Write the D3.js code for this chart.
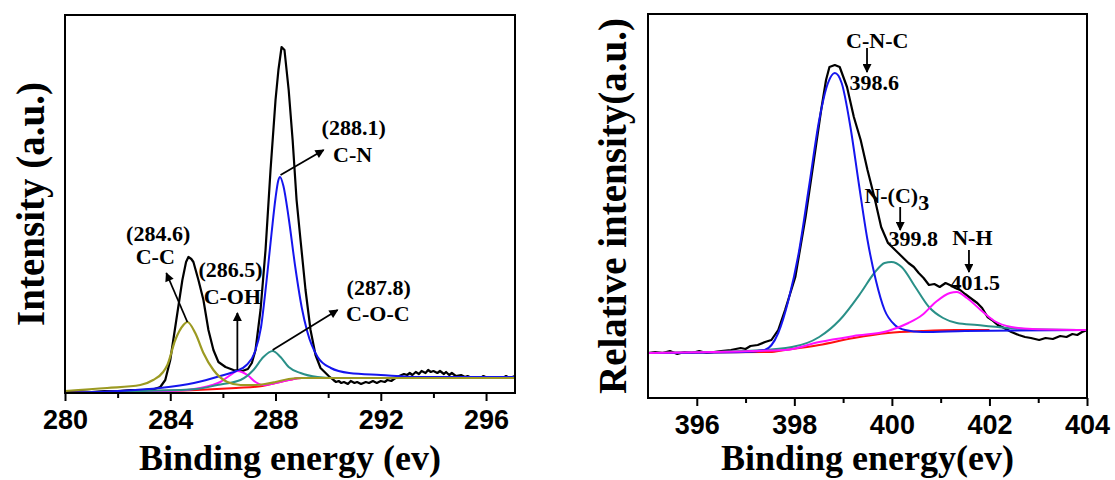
<!DOCTYPE html>
<html><head><meta charset="utf-8">
<script src="https://cdn.jsdelivr.net/npm/d3@7"></script>
<style>
html,body{margin:0;padding:0;background:#fff;}
svg{display:block;}
</style></head>
<body>
<svg id="chart" width="1115" height="480"></svg>
<script>
// ---------- DATA ----------
// C 1s panel (binding energy eV, intensity a.u.)
const c1sEnvelope = [[280.0,2],[280.5,2],[281.0,1],[281.5,2],[282.0,2],[282.5,3],[283.0,3],[283.4,4],[283.62,6],[283.81,13],[284.0,33],[284.23,73],[284.46,113],[284.6,131],[284.69,136],[284.8,134],[284.88,131],[285.07,113],[285.26,93],[285.45,63],[285.64,43],[285.83,31],[286.1,26],[286.4,23],[286.74,22],[286.95,24],[287.1,30],[287.24,43],[287.43,83],[287.62,143],[287.81,223],[288.0,293],[288.11,323],[288.23,346],[288.34,343],[288.5,303],[288.65,253],[288.8,193],[288.95,153],[289.14,103],[289.33,63],[289.52,38],[289.71,25],[290.02,17],[290.2,13],[290.3,11],[290.4,12],[290.5,10],[290.6,11],[290.75,9],[290.86,12],[291.0,10],[291.1,11],[291.25,9],[291.43,11],[291.55,10],[291.7,12],[291.85,10],[292.0,12],[292.15,11],[292.25,13],[292.4,12],[292.5,14],[292.7,17],[292.88,19],[293.0,18],[293.1,20],[293.2,18],[293.33,21],[293.45,19],[293.55,22],[293.7,20],[293.8,23],[293.9,21],[294.0,22],[294.15,20],[294.25,22],[294.4,19],[294.48,21],[294.6,18],[294.7,20],[294.85,17],[295.05,18],[295.2,16],[295.3,17],[295.45,15],[295.62,16],[295.8,15],[295.9,17],[296.05,15],[296.19,16],[296.35,15],[296.5,16],[296.65,15],[296.76,17],[296.9,15],[297.1,17]];
const c1sCC = [[280.0,2],[281.6,5],[282.86,8],[283.35,13],[283.73,21],[283.89,28],[284.19,53],[284.5,68],[284.65,71],[284.95,60],[285.26,40],[285.64,23],[286.17,11],[286.67,8],[287.2,8],[287.6,9],[288.0,11],[288.5,14],[289.0,15],[290.0,15],[297.1,15]];
const c1sCOH = [[280.0,0],[282.0,1],[284.0,2],[285.14,5],[285.6,8],[285.9,11],[286.29,18],[286.55,22],[286.93,18],[287.24,11],[287.54,8],[288.0,10],[288.5,13],[289.0,15],[297.1,15]];
const c1sCOC = [[280.0,0],[283.0,2],[285.0,4],[285.79,8],[286.67,13],[287.16,23],[287.54,36],[287.89,42],[288.19,36],[288.5,26],[288.95,20],[289.6,16],[290.2,15],[297.1,15]];
const c1sCN = [[280.0,0],[282.0,2],[283.6,5],[284.9,10],[285.9,17],[286.5,22],[286.9,28],[287.2,40],[287.45,66],[287.65,110],[287.85,160],[288.0,195],[288.1,212],[288.17,216],[288.3,207],[288.5,175],[288.75,126],[289.0,85],[289.2,62],[289.6,36],[290.1,25],[290.8,20],[292.0,18],[293.5,16],[297.1,16]];
const c1sBackground = [[280.0,0],[283.0,2],[285.0,3],[286.5,5],[287.5,7],[288.0,10],[288.5,13],[289.0,15],[290.0,15],[297.1,15]];
const c1sTicks = [280,284,288,292,296];
const c1sMinorTicks = [282,286,290,294];
const c1sPeaks = ["(284.6)","(286.5)","(288.1)","(287.8)"];
const c1sBonds = ["C-C","C-OH","C-N","C-O-C"];

// N 1s panel
const n1sEnvelope = [[395.0,45],[395.15,46],[395.3,45],[395.45,47],[395.6,44],[395.75,46],[395.9,45],[396.05,47],[396.2,45],[396.35,46],[396.5,47],[396.7,48],[396.9,50],[397.0,49],[397.1,52],[397.25,53],[397.4,56],[397.53,58],[397.67,68],[397.81,88],[398.02,121],[398.23,181],[398.44,251],[398.55,288],[398.65,318],[398.72,331],[398.83,333],[398.93,331],[399.08,311],[399.22,281],[399.36,258],[399.5,228],[399.64,201],[399.78,171],[399.92,155],[400.13,145],[400.34,135],[400.45,131],[400.55,125],[400.65,120],[400.76,113],[400.87,114],[400.98,111],[401.1,115],[401.19,113],[401.3,110],[401.4,108],[401.5,104],[401.61,100],[401.75,95],[401.85,90],[401.96,81],[402.05,78],[402.17,73],[402.3,70],[402.45,66],[402.6,63],[402.73,61],[402.85,60],[403.02,58],[403.15,60],[403.3,59],[403.45,62],[403.58,61],[403.7,64],[403.8,63],[403.9,66],[404.0,68]];
const n1sCNC = [[395.0,45],[397.0,46],[397.39,48],[397.67,65],[397.88,98],[398.09,145],[398.3,211],[398.51,278],[398.69,315],[398.83,325],[398.97,315],[399.15,271],[399.32,215],[399.5,158],[399.67,118],[399.85,88],[400.06,73],[400.27,68],[400.62,66],[401.5,67],[404.0,68]];
const n1sNC3 = [[395.0,45],[397.0,47],[397.95,51],[398.51,61],[398.93,78],[399.36,105],[399.64,125],[399.85,135],[399.99,136],[400.2,131],[400.48,111],[400.76,91],[401.05,80],[401.33,75],[401.75,73],[402.17,71],[402.73,69],[404.0,68]];
const n1sNH = [[395.0,45],[397.81,48],[398.51,56],[399.22,62],[399.92,67],[400.34,75],[400.62,83],[400.9,96],[401.19,105],[401.33,106],[401.54,100],[401.82,88],[402.1,77],[402.45,71],[402.88,69],[404.0,68]];
const n1sBackground = [[395.0,45],[397.5,46],[397.81,48],[398.51,53],[399.22,60],[399.92,65],[400.62,67],[401.3,68],[402.0,68]];
const n1sTicks = [396,398,400,402,404];
const n1sMinorTicks = [397,399,401,403];
const n1sBonds = ["C-N-C","N-(C)","N-H"];
const n1sPeaks = ["398.6","399.8","401.5"];

// ---------- DRAW ----------
const svg = d3.select("#chart");
const SERIF = "'Liberation Serif','Times New Roman',serif";
const NARROW = "'Liberation Sans Narrow','Arial Narrow','Liberation Sans',Arial,sans-serif";

const defs = svg.append("defs");
defs.append("marker").attr("id","ah").attr("viewBox","0 0 10 10")
  .attr("refX",9).attr("refY",5).attr("markerWidth",11).attr("markerHeight",9)
  .attr("markerUnits","userSpaceOnUse").attr("orient","auto")
  .append("path").attr("d","M0,0 L10,5 L0,10 Z").attr("fill","#000");

function panel(cfg){
  const g = svg.append("g");
  const x = d3.scaleLinear().domain(cfg.xDomain).range([cfg.left, cfg.right]);
  const y = d3.scaleLinear().domain(cfg.yDomain).range([cfg.bottom, cfg.top]);
  const clipId = "clip"+cfg.id;
  defs.append("clipPath").attr("id",clipId).append("rect")
    .attr("x",cfg.left).attr("y",cfg.top).attr("width",cfg.right-cfg.left).attr("height",cfg.bottom-cfg.top);
  const plot = g.append("g").attr("clip-path",`url(#${clipId})`);
  cfg.series.forEach(s=>{
    plot.append("path").datum(s.data)
      .attr("fill","none").attr("stroke",s.color).attr("stroke-width",s.width)
      .attr("stroke-linejoin","round")
      .attr("d", d3.line().x(d=>x(d[0])).y(d=>y(d[1])).curve(s.curve));
  });
  // frame
  g.append("rect").attr("x",cfg.left).attr("y",cfg.top)
    .attr("width",cfg.right-cfg.left).attr("height",cfg.bottom-cfg.top)
    .attr("fill","none").attr("stroke","#000").attr("stroke-width",2);
  // axis
  const ax = g.append("g").attr("transform",`translate(0,${cfg.bottom})`)
    .call(d3.axisBottom(x).tickValues(cfg.ticks).tickSize(8).tickPadding(9).tickFormat(d3.format("d")));
  ax.select(".domain").remove();
  ax.selectAll(".tick line").attr("stroke","#000").attr("stroke-width",2);
  ax.selectAll(".tick text").attr("font-family",NARROW).attr("font-weight","bold")
    .attr("font-size",27).attr("fill","#000");
  const axm = g.append("g").attr("transform",`translate(0,${cfg.bottom})`)
    .call(d3.axisBottom(x).tickValues(cfg.minor).tickSize(5).tickFormat(""));
  axm.select(".domain").remove();
  axm.selectAll(".tick line").attr("stroke","#000").attr("stroke-width",2);
  // titles
  g.append("text").attr("x",(cfg.left+cfg.right)/2+cfg.xTitleDx).attr("y",cfg.xTitleY)
    .attr("text-anchor","middle").attr("font-family",SERIF).attr("font-weight","bold")
    .attr("font-size",36).text(cfg.xTitle);
  g.append("text").attr("transform",`translate(${cfg.yTitleX},${(cfg.top+cfg.bottom)/2+cfg.yTitleDy}) rotate(-90)`)
    .attr("text-anchor","middle").attr("dominant-baseline","central").attr("font-family",SERIF).attr("font-weight","bold")
    .attr("font-size",39).text(cfg.yTitle);
  return {g,x,y};
}

function label(p, txt, ex, ev, size){
  return p.g.append("text").attr("x",p.x(ex)).attr("y",p.y(ev))
    .attr("text-anchor","middle").attr("dominant-baseline","central")
    .attr("font-family",SERIF).attr("font-weight","bold").attr("font-size",size||22)
    .attr("fill","#000").text(txt);
}
function arrow(p, x1,v1,x2,v2){
  p.g.append("line").attr("x1",p.x(x1)).attr("y1",p.y(v1)).attr("x2",p.x(x2)).attr("y2",p.y(v2))
    .attr("stroke","#000").attr("stroke-width",1.8).attr("marker-end","url(#ah)");
}

const curve = d3.curveMonotoneX;
const L = panel({
  id:"L", left:65, right:515, top:15, bottom:393,
  xDomain:[280,297.1], yDomain:[0,378],
  ticks:c1sTicks, minor:c1sMinorTicks,
  xTitle:"Binding energy (ev)", xTitleY:470, xTitleDx:0,
  yTitle:"Intensity (a.u.)", yTitleX:30, yTitleDy:0,
  series:[
    {data:c1sEnvelope,color:"#000000",width:2.2,curve:d3.curveLinear},
    {data:c1sBackground,color:"#ff1010",width:2,curve},
    {data:c1sCOH,color:"#ff10ff",width:2,curve},
    {data:c1sCOC,color:"#2a9088",width:2,curve},
    {data:c1sCN,color:"#1515ee",width:2,curve},
    {data:c1sCC,color:"#9c9a22",width:2.2,curve}
  ]
});
const R = panel({
  id:"R", left:648, right:1087, top:14, bottom:398,
  xDomain:[395,404], yDomain:[0,384],
  ticks:n1sTicks, minor:n1sMinorTicks,
  xTitle:"Binding energy(ev)", xTitleY:470, xTitleDx:0,
  yTitle:"Relative intensity(a.u.)", yTitleX:612, yTitleDy:0,
  series:[
    {data:n1sEnvelope,color:"#000000",width:2.2,curve:d3.curveLinear},
    {data:n1sBackground,color:"#ff1010",width:2,curve},
    {data:n1sNC3,color:"#2a9088",width:2,curve},
    {data:n1sCNC,color:"#1515ee",width:2,curve},
    {data:n1sNH,color:"#ff10ff",width:2,curve}
  ]
});

// C 1s annotations
label(L, c1sPeaks[0], 283.54, 160); label(L, c1sBonds[0], 283.43, 137);
arrow(L, 284.65, 71, 283.85, 120);
label(L, c1sPeaks[1], 286.29, 124); label(L, c1sBonds[1], 286.36, 97);
arrow(L, 286.55, 23, 286.55, 80);
label(L, c1sPeaks[2], 290.97, 266); label(L, c1sBonds[2], 290.93, 239);
arrow(L, 288.19, 218, 289.83, 243);
label(L, c1sPeaks[3], 291.92, 106); label(L, c1sBonds[3], 291.89, 80);
arrow(L, 287.89, 43, 290.36, 83);

// N 1s annotations
label(R, n1sBonds[0], 399.7, 358);
arrow(R, 399.49, 350, 399.49, 326);
label(R, n1sPeaks[0], 399.64, 316);
const nc3 = label(R, n1sBonds[1], 400.1, 203);
nc3.append("tspan").attr("dy",7).attr("font-size",22).text("3");
arrow(R, 400.17, 191, 400.17, 168);
label(R, n1sPeaks[1], 400.44, 160);
label(R, n1sBonds[2], 401.65, 161);
arrow(R, 401.58, 148, 401.58, 126);
label(R, n1sPeaks[2], 401.71, 116);
</script>
</body></html>
